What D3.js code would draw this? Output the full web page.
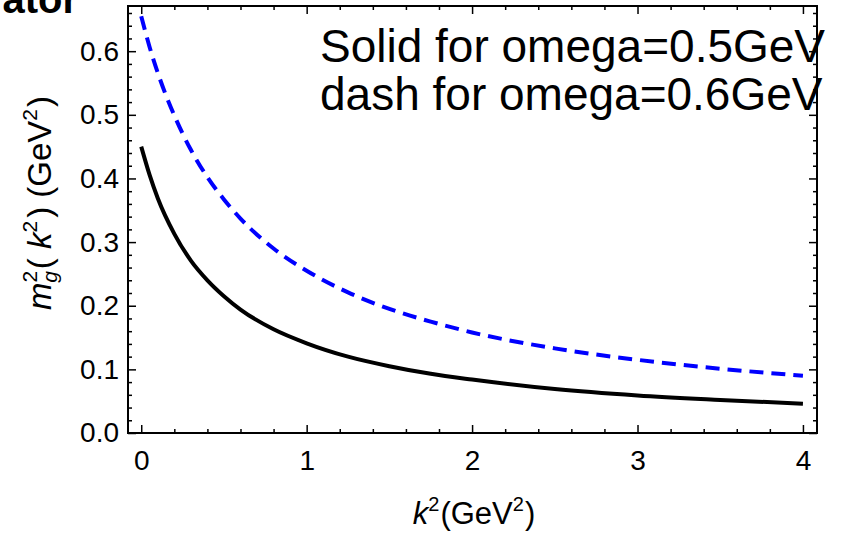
<!DOCTYPE html>
<html>
<head>
<meta charset="utf-8">
<script src="https://cdn.jsdelivr.net/npm/d3@7"></script>
<style>
  body { margin: 0; background: #fff; }
  svg { display: block; font-family: "Liberation Sans", Arial, sans-serif; }
  .tick text { font-size: 28px; fill: #000; }
  .tick line { stroke: #000; stroke-width: 1.5; }
  .domain { display: none; }
</style>
</head>
<body>
<div id="chart"></div>
<script>
// k^2 sample points (GeV^2)
var k2 = [0, 0.05, 0.1, 0.2, 0.3, 0.4, 0.5, 0.6, 0.8, 1.0, 1.25, 1.5, 1.75, 2.0, 2.5, 3.0, 3.5, 4.0];
// solid curve, omega = 0.5 GeV
var solid = [0.450, 0.406, 0.369, 0.313, 0.271, 0.240, 0.215, 0.194, 0.163, 0.141, 0.120, 0.105, 0.093, 0.084, 0.069, 0.059, 0.052, 0.046];
// dashed curve, omega = 0.6 GeV
var dash = [0.655, 0.607, 0.566, 0.499, 0.445, 0.402, 0.367, 0.337, 0.290, 0.255, 0.221, 0.195, 0.175, 0.158, 0.133, 0.115, 0.101, 0.090];

var xTicks = [0, 1, 2, 3, 4];
var xTickLabels = ["0", "1", "2", "3", "4"];
var yTicks = [0, 0.1, 0.2, 0.3, 0.4, 0.5, 0.6];
var yTickLabels = ["0.0", "0.1", "0.2", "0.3", "0.4", "0.5", "0.6"];
var legendLines = ["Solid for omega=0.5GeV", "dash for omega=0.6GeV"];

var width = 852, height = 536,
    frame = {left: 128, right: 817, top: 6, bottom: 433};

var svg = d3.select('#chart').append('svg')
    .attr('width', width)
    .attr('height', height);

svg.append('rect').attr('width', width).attr('height', height).attr('fill', '#fff');

var x = d3.scaleLinear().domain([-0.08, 4.085]).range([frame.left, frame.right]);
var y = d3.scaleLinear().domain([0, 0.671]).range([frame.bottom, frame.top]);

// minor tick positions
var xMinor = d3.range(0, 4.01, 0.2).filter(function (v) { return Math.abs(v - Math.round(v)) > 1e-6; });
var yMinor = d3.range(0, 0.671, 0.02).filter(function (v) { return Math.abs(v * 10 - Math.round(v * 10)) > 1e-6; });

function fmt(labels, ticks) {
    return function (d) { return labels[ticks.indexOf(d)]; };
}

// bottom axis
svg.append('g').attr('transform', 'translate(0,' + frame.bottom + ')')
    .call(d3.axisBottom(x).tickValues(xTicks).tickSize(-8).tickPadding(17).tickFormat(fmt(xTickLabels, xTicks)));
svg.append('g').attr('transform', 'translate(0,' + frame.bottom + ')')
    .call(d3.axisBottom(x).tickValues(xMinor).tickSize(-4).tickFormat(''));
// top axis (ticks only)
svg.append('g').attr('transform', 'translate(0,' + frame.top + ')')
    .call(d3.axisTop(x).tickValues(xTicks).tickSize(-8).tickFormat(''));
svg.append('g').attr('transform', 'translate(0,' + frame.top + ')')
    .call(d3.axisTop(x).tickValues(xMinor).tickSize(-4).tickFormat(''));
// left axis
svg.append('g').attr('transform', 'translate(' + frame.left + ',0)')
    .call(d3.axisLeft(y).tickValues(yTicks).tickSize(-8).tickPadding(9).tickFormat(fmt(yTickLabels, yTicks)));
svg.append('g').attr('transform', 'translate(' + frame.left + ',0)')
    .call(d3.axisLeft(y).tickValues(yMinor).tickSize(-4).tickFormat(''));
// right axis (ticks only)
svg.append('g').attr('transform', 'translate(' + frame.right + ',0)')
    .call(d3.axisRight(y).tickValues(yTicks).tickSize(-8).tickFormat(''));
svg.append('g').attr('transform', 'translate(' + frame.right + ',0)')
    .call(d3.axisRight(y).tickValues(yMinor).tickSize(-4).tickFormat(''));

// curves
var line = function (vals) {
    return d3.line()
        .x(function (d, i) { return x(k2[i]); })
        .y(function (d) { return y(d); })
        .curve(d3.curveMonotoneX)(vals);
};

svg.append('path')
    .attr('d', line(dash))
    .attr('fill', 'none')
    .attr('stroke', '#0000ff')
    .attr('stroke-width', 4)
    .attr('stroke-dasharray', '14,8');

svg.append('path')
    .attr('d', line(solid))
    .attr('fill', 'none')
    .attr('stroke', '#000')
    .attr('stroke-width', 4);

// legend text
svg.selectAll('.legend')
    .data(legendLines)
    .enter()
    .append('text')
    .attr('class', 'legend')
    .attr('x', 320)
    .attr('y', function (d, i) { return 62 + i * 48; })
    .attr('font-size', 46)
    .text(function (d) { return d; });

// frame
svg.append('rect')
    .attr('x', frame.left).attr('y', frame.top)
    .attr('width', frame.right - frame.left).attr('height', frame.bottom - frame.top)
    .attr('fill', 'none')
    .attr('stroke', '#000')
    .attr('stroke-width', 2);

// cut-off title at the top-left
svg.append('text')
    .attr('x', 78).attr('y', 13)
    .attr('text-anchor', 'end')
    .attr('font-size', 40)
    .attr('font-weight', 'bold')
    .text('ator');

// x label
var xl = svg.append('text')
    .attr('x', 474).attr('y', 524)
    .attr('text-anchor', 'middle')
    .attr('font-size', 31);
xl.append('tspan').attr('font-style', 'italic').text('k');
xl.append('tspan').attr('font-size', 20).attr('dy', -13).text('2');
xl.append('tspan').attr('dy', 13).attr('dx', 1).text('(GeV');
xl.append('tspan').attr('font-size', 20).attr('dy', -13).text('2');
xl.append('tspan').attr('dy', 13).attr('dx', 1).text(')');

// y label
var yl = svg.append('text')
    .attr('transform', 'translate(51,203) rotate(-90)')
    .attr('text-anchor', 'middle')
    .attr('font-size', 33);
yl.append('tspan').attr('font-style', 'italic').text('m');
yl.append('tspan').attr('font-size', 21).attr('dy', -14).text('2');
yl.append('tspan').attr('font-size', 21).attr('font-style', 'italic').attr('dx', -12).attr('dy', 20).text('g');
yl.append('tspan').attr('dy', -6).attr('dx', 2).text('( ');
yl.append('tspan').attr('font-style', 'italic').text('k');
yl.append('tspan').attr('font-size', 21).attr('dy', -14).text('2');
yl.append('tspan').attr('dy', 14).attr('dx', 3).text(') (GeV');
yl.append('tspan').attr('font-size', 21).attr('dy', -14).text('2');
yl.append('tspan').attr('dy', 14).attr('dx', 2).text(')');
</script>
</body>
</html>
